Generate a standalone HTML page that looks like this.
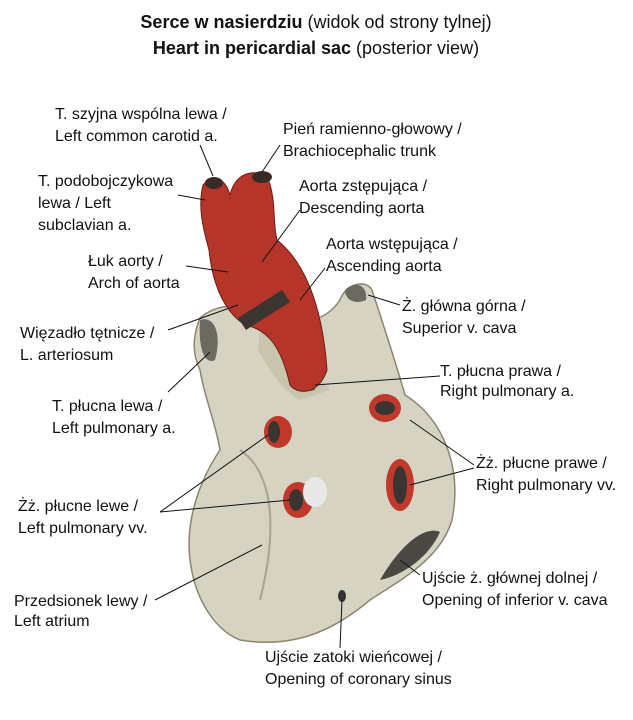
<!DOCTYPE html>
<html><head><meta charset="utf-8"><style>
html,body{margin:0;padding:0;background:#fff;}
svg{display:block;}
text{font-family:"Liberation Sans",sans-serif;font-size:16px;fill:#111;}
.t{font-size:18px;}
</style></head><body>
<svg width="633" height="720" viewBox="0 0 633 720" xmlns="http://www.w3.org/2000/svg">
<text class="t" x="316" y="28" text-anchor="middle"><tspan font-weight="bold">Serce w nasierdziu</tspan> (widok od strony tylnej)</text>
<text class="t" x="316" y="54" text-anchor="middle"><tspan font-weight="bold">Heart in pericardial sac</tspan> (posterior view)</text>

<path d="M200,318 C215,305 240,300 262,318 C290,320 320,330 340,300 C345,285 365,278 372,290 C385,330 395,360 405,395 C445,420 462,470 452,520 C440,560 400,580 370,600 C340,625 300,650 240,640 C215,630 195,600 190,560 C185,520 200,480 220,450 C215,420 205,400 200,370 C190,350 195,330 200,318 Z" fill="#d6d3c2" stroke="#8a8670" stroke-width="1.5"/>
<path d="M260,330 C300,340 320,380 330,390 L300,400 C280,390 270,370 258,350Z" fill="#c9c4ae"/>
<path d="M240,450 C270,470 280,520 260,600" stroke="#a9a48e" stroke-width="2" fill="none"/>
<path d="M345,290 C355,280 368,285 366,300 C355,305 345,300 345,290Z" fill="#6b6a60"/>
<path d="M200,320 C215,315 222,335 215,360 C205,365 198,350 200,320Z" fill="#6b6a60"/>
<path d="M290,360 C305,355 318,365 315,390 C300,395 290,385 290,360Z" fill="#6b6a60"/>
<path d="M203,185 C213,173 225,178 230,195 C235,175 250,168 267,176 C277,200 272,220 277,240 C302,260 322,300 327,370 C320,392 300,397 290,385 C282,350 270,330 245,325 C222,310 212,280 209,250 C202,225 198,205 203,185Z" fill="#b5352a" stroke="#6e1d16" stroke-width="1"/>
<ellipse cx="214" cy="183" rx="9" ry="6" fill="#3a2a26"/>
<ellipse cx="262" cy="177" rx="10" ry="6" fill="#3a2a26"/>
<path d="M238,318 L282,290 L290,302 L246,330Z" fill="#3a3530"/>
<ellipse cx="278" cy="432" rx="14" ry="16" fill="#c0392b"/><ellipse cx="274" cy="432" rx="6" ry="11" fill="#3a3530"/>
<ellipse cx="385" cy="408" rx="16" ry="14" fill="#c0392b"/><ellipse cx="385" cy="408" rx="10" ry="7" fill="#3a3530"/>
<ellipse cx="298" cy="500" rx="15" ry="18" fill="#c0392b"/><ellipse cx="296" cy="500" rx="7" ry="11" fill="#3a3530"/>
<ellipse cx="315" cy="492" rx="12" ry="15" fill="#e8e8e8"/>
<ellipse cx="400" cy="485" rx="14" ry="26" fill="#c0392b"/><ellipse cx="400" cy="485" rx="7" ry="19" fill="#3a3530"/>
<path d="M380,580 C400,545 425,525 440,532 C430,555 405,575 380,580Z" fill="#4a4843"/>
<ellipse cx="342" cy="596" rx="4" ry="6" fill="#333"/>

<g stroke="#111" stroke-width="1" fill="none">
<line x1="200" y1="145" x2="213" y2="176"/>
<line x1="280" y1="145" x2="262" y2="172"/>
<line x1="178" y1="195" x2="205" y2="200"/>
<line x1="300" y1="210" x2="262" y2="262"/>
<line x1="186" y1="266" x2="228" y2="272"/>
<line x1="325" y1="268" x2="300" y2="300"/>
<line x1="400" y1="305" x2="368" y2="295"/>
<line x1="168" y1="330" x2="238" y2="305"/>
<line x1="440" y1="376" x2="315" y2="385"/>
<line x1="168" y1="392" x2="210" y2="352"/>
<line x1="474" y1="465" x2="410" y2="420"/>
<line x1="474" y1="468" x2="410" y2="485"/>
<line x1="160" y1="512" x2="268" y2="435"/>
<line x1="160" y1="512" x2="290" y2="500"/>
<line x1="155" y1="600" x2="262" y2="545"/>
<line x1="420" y1="575" x2="400" y2="560"/>
<line x1="340" y1="648" x2="342" y2="600"/>
</g>

<text x="55" y="119">T. szyjna wspólna lewa /</text>
<text x="55" y="141">Left common carotid a.</text>
<text x="283" y="134">Pień ramienno-głowowy /</text>
<text x="283" y="156">Brachiocephalic trunk</text>
<text x="38" y="186">T. podobojczykowa</text>
<text x="38" y="208">lewa / Left</text>
<text x="38" y="230">subclavian a.</text>
<text x="299" y="191">Aorta zstępująca /</text>
<text x="299" y="213">Descending aorta</text>
<text x="326" y="249">Aorta wstępująca /</text>
<text x="326" y="271">Ascending aorta</text>
<text x="88" y="266">Łuk aorty /</text>
<text x="88" y="288">Arch of aorta</text>
<text x="402" y="311">Ż. główna górna /</text>
<text x="402" y="333">Superior v. cava</text>
<text x="20" y="338">Więzadło tętnicze /</text>
<text x="20" y="360">L. arteriosum</text>
<text x="440" y="376">T. płucna prawa /</text>
<text x="440" y="396">Right pulmonary a.</text>
<text x="52" y="411">T. płucna lewa /</text>
<text x="52" y="433">Left pulmonary a.</text>
<text x="476" y="468">Żż. płucne prawe /</text>
<text x="476" y="490">Right pulmonary vv.</text>
<text x="18" y="511">Żż. płucne lewe /</text>
<text x="18" y="533">Left pulmonary vv.</text>
<text x="14" y="606">Przedsionek lewy /</text>
<text x="14" y="626">Left atrium</text>
<text x="422" y="583">Ujście ż. głównej dolnej /</text>
<text x="422" y="605">Opening of inferior v. cava</text>
<text x="265" y="662">Ujście zatoki wieńcowej /</text>
<text x="265" y="684">Opening of coronary sinus</text>
</svg>
</body></html>
